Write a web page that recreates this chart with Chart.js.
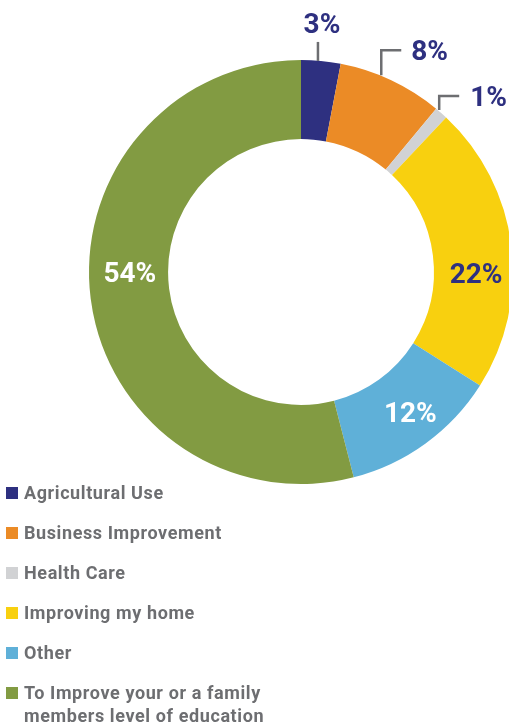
<!DOCTYPE html>
<html>
<head>
<meta charset="utf-8">
<script src="https://cdn.jsdelivr.net/npm/chart.js@4.4.1/dist/chart.umd.min.js"></script>
<style>
  html, body { margin: 0; padding: 0; background: #fff; overflow: hidden; }
  body { width: 509px; height: 722px; position: relative; }
  #wrap { position: absolute; left: 0; top: 0; width: 602px; height: 560px; }
  #legend { position: absolute; left: 6px; top: 481px; font-family: Roboto, sans-serif; font-weight: 700; font-size: 18px; letter-spacing: 0.6px; color: #6d6e71; }
  .item { position: relative; padding-left: 18px; line-height: 23px; height: 40px; }
  .item .box { position: absolute; left: 0; top: 6px; width: 12px; height: 12px; }
</style>
</head>
<body>
<div id="wrap"><canvas id="usage-chart"></canvas></div>
<div id="legend"></div>
<script>
  const categories = [
    'Agricultural Use',
    'Business Improvement',
    'Health Care',
    'Improving my home',
    'Other',
    'To Improve your or a family members level of education'
  ];
  const shares = [3, 8, 1, 22, 12, 54];
  const sliceColors = ['#2e3080', '#eb8b26', '#d1d2d4', '#f8d00f', '#5fb0d8', '#829b42'];

  // legend text breaks for the long last entry
  const legendLines = [
    ['Agricultural Use'],
    ['Business Improvement'],
    ['Health Care'],
    ['Improving my home'],
    ['Other'],
    ['To Improve your or a family', 'members level of education']
  ];

  // how each value label sits: inside the ring or pulled out with a leader line
  const labelStyles = [
    { mode: 'callout', color: '#2e3080', line: [[-3, 0], [-3, -19]], text: [1, -38], align: 'center' },
    { mode: 'callout', color: '#2e3080', line: [[-10, -5], [-10, -30], [10, -30]], text: [20, -30], align: 'left' },
    { mode: 'callout', color: '#2e3080', line: [[-2, -3], [-2, -17], [18, -17]], text: [29, -17], align: 'left' },
    { mode: 'inside', color: '#2e3080', offset: [4, 23] },
    { mode: 'inside', color: '#ffffff', offset: [8, 0] },
    { mode: 'inside', color: '#ffffff', offset: [0, -22] }
  ];

  const valueLabels = {
    id: 'valueLabels',
    afterDatasetsDraw(chart) {
      const ctx = chart.ctx;
      const meta = chart.getDatasetMeta(0);
      const capHalf = 10; // half the cap height at 28px, so digits centre on the anchor
      ctx.save();
      ctx.font = '700 28px Roboto, sans-serif';
      ctx.textBaseline = 'alphabetic';
      meta.data.forEach((arc, i) => {
        const p = arc.getProps(['x', 'y', 'startAngle', 'endAngle', 'innerRadius', 'outerRadius'], true);
        const mid = (p.startAngle + p.endAngle) / 2;
        const style = labelStyles[i];
        const text = shares[i] + '%';
        if (style.mode === 'inside') {
          const r = (p.innerRadius + p.outerRadius) / 2;
          const x = p.x + Math.cos(mid) * r + style.offset[0];
          const y = p.y + Math.sin(mid) * r + style.offset[1];
          ctx.fillStyle = style.color;
          ctx.textAlign = 'center';
          ctx.fillText(text, x, y + capHalf);
        } else {
          const ox = p.x + Math.cos(mid) * p.outerRadius;
          const oy = p.y + Math.sin(mid) * p.outerRadius;
          ctx.strokeStyle = '#6d6e71';
          ctx.lineWidth = 2.5;
          ctx.beginPath();
          style.line.forEach((pt, k) => {
            if (k === 0) ctx.moveTo(ox + pt[0], oy + pt[1]);
            else ctx.lineTo(ox + pt[0], oy + pt[1]);
          });
          ctx.stroke();
          ctx.fillStyle = style.color;
          ctx.textAlign = style.align;
          ctx.fillText(text, ox + style.text[0], oy + style.text[1] + capHalf);
        }
      });
      ctx.restore();
    }
  };

  new Chart(document.getElementById('usage-chart'), {
    type: 'doughnut',
    data: {
      labels: categories,
      datasets: [{
        data: shares,
        backgroundColor: sliceColors,
        borderWidth: 0
      }]
    },
    options: {
      responsive: true,
      maintainAspectRatio: false,
      animation: false,
      cutout: '62.7%',
      layout: { padding: { top: 60, bottom: 76, left: 89, right: 89 } },
      plugins: {
        legend: { display: false },
        tooltip: { enabled: false }
      }
    },
    plugins: [valueLabels]
  });

  // legend under the ring
  const legendEl = document.getElementById('legend');
  categories.forEach((name, i) => {
    const item = document.createElement('div');
    item.className = 'item';
    const box = document.createElement('span');
    box.className = 'box';
    box.style.background = sliceColors[i];
    item.appendChild(box);
    legendLines[i].forEach((line, k) => {
      if (k > 0) item.appendChild(document.createElement('br'));
      item.appendChild(document.createTextNode(line));
    });
    legendEl.appendChild(item);
  });
</script>
</body>
</html>
